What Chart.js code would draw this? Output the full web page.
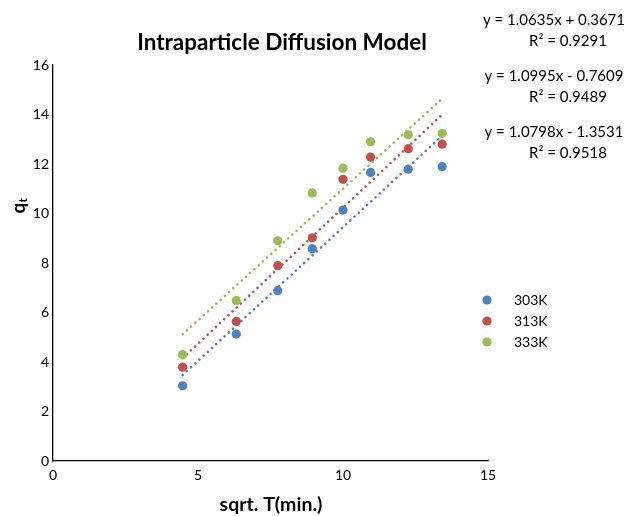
<!DOCTYPE html>
<html>
<head>
<meta charset="utf-8">
<script src="https://cdn.jsdelivr.net/npm/chart.js@4.4.1/dist/chart.umd.min.js"></script>
<style>
html, body { margin: 0; padding: 0; background: #fff; }
#wrap { width: 627px; height: 516px; }
</style>
</head>
<body>
<div id="wrap"><canvas id="diffChart" width="627" height="516"></canvas></div>
<script>
// values
const sqrtTime = [4.47, 6.32, 7.75, 8.94, 10.0, 10.95, 12.25, 13.42];
const qt303 = [3.04, 5.13, 6.88, 8.58, 10.14, 11.66, 11.79, 11.89];
const qt313 = [3.79, 5.64, 7.89, 9.02, 11.38, 12.28, 12.62, 12.80];
const qt333 = [4.30, 6.48, 8.90, 10.83, 11.83, 12.90, 13.18, 13.24];
const seriesNames = ['303K', '313K', '333K'];
const seriesColors = ['#4F81BD', '#C0504D', '#9BBB59'];

// trendline equations shown on the chart (303K, 313K, 333K)
const slopes = [1.0798, 1.0995, 1.0635];
const intercepts = [-1.3531, -0.7609, 0.3671];
const rSquared = ['0.9518', '0.9489', '0.9291'];
const eqLabels = ['y = 1.0798x - 1.3531', 'y = 1.0995x - 0.7609', 'y = 1.0635x + 0.3671'];

const xMin = 0, xMax = 15, xStep = 5;
const yMin = 0, yMax = 16, yStep = 2;

const FONT = 'Lato, "Open Sans", sans-serif';
const allQt = [qt303, qt313, qt333];

function pts(ys) {
    return sqrtTime.map((x, i) => ({ x: x, y: ys[i] }));
}

function trend(k) {
    const x0 = sqrtTime[0];
    const x1 = sqrtTime[sqrtTime.length - 1];
    return [
        { x: x0, y: slopes[k] * x0 + intercepts[k] },
        { x: x1, y: slopes[k] * x1 + intercepts[k] }
    ];
}

const datasets = [];
for (let k = 0; k < 3; k++) {
    datasets.push({
        label: seriesNames[k],
        data: pts(allQt[k]),
        backgroundColor: seriesColors[k],
        borderColor: seriesColors[k],
        pointRadius: 4.6,
        pointHoverRadius: 4.6,
        pointBorderWidth: 0,
        showLine: false,
        order: 1
    });
}
for (let k = 0; k < 3; k++) {
    datasets.push({
        label: 'trend ' + seriesNames[k],
        data: trend(k),
        borderColor: seriesColors[k],
        borderWidth: 2.6,
        borderDash: [0.1, 5.6],
        borderCapStyle: 'round',
        pointRadius: 0,
        showLine: true,
        fill: false,
        order: 2
    });
}

// text drawn the way the spreadsheet lays it out
const textPlugin = {
    id: 'sheetText',
    afterDraw(chart) {
        const c = chart.ctx;
        c.save();
        c.fillStyle = '#000';

        // title
        c.font = 'bold 22.5px ' + FONT;
        c.textAlign = 'center';
        c.textBaseline = 'middle';
        c.fillText('Intraparticle Diffusion Model', 282, 43);

        // x axis title
        c.font = 'bold 19.5px ' + FONT;
        c.fillText('sqrt. T(min.)', 271, 505);

        // y axis title q with subscript t
        c.save();
        c.translate(19, 205);
        c.rotate(-Math.PI / 2);
        c.font = 'bold 19px ' + FONT;
        c.textAlign = 'left';
        const qw = c.measureText('q').width;
        c.fillText('q', -qw / 2 - 3, 0);
        c.font = 'bold 12px ' + FONT;
        c.fillText('t', qw / 2 - 3, 4);
        c.restore();

        // legend
        c.font = '14px ' + FONT;
        c.textAlign = 'left';
        const legendY = [300, 321, 342];
        for (let k = 0; k < 3; k++) {
            c.beginPath();
            c.fillStyle = seriesColors[k];
            c.arc(487, legendY[k], 4.6, 0, Math.PI * 2);
            c.fill();
            c.fillStyle = '#000';
            c.fillText(seriesNames[k], 514, legendY[k]);
        }

        // trendline equations, top to bottom: 333K, 313K, 303K
        c.font = '15px ' + FONT;
        c.textAlign = 'center';
        const eqY = [20, 76, 132];
        for (let j = 0; j < 3; j++) {
            const k = 2 - j;
            c.fillText(eqLabels[k], 554, eqY[j]);
            c.fillText('R\u00B2 = ' + rSquared[k], 568, eqY[j] + 21);
        }
        c.restore();
    }
};

new Chart(document.getElementById('diffChart'), {
    type: 'scatter',
    data: { datasets: datasets },
    options: {
        responsive: false,
        animation: false,
        devicePixelRatio: 1,
        layout: { padding: { top: 65, right: 139, left: 0, bottom: 0 } },
        plugins: {
            legend: { display: false },
            tooltip: { enabled: false },
            title: { display: false }
        },
        scales: {
            x: {
                type: 'linear',
                min: xMin,
                max: xMax,
                ticks: { stepSize: xStep, color: '#000', font: { family: FONT, size: 14 }, padding: 6 },
                grid: { display: false, drawTicks: false },
                border: { display: true, color: '#000', width: 1.3 },
                afterFit(scale) { scale.height = 55; }
            },
            y: {
                type: 'linear',
                min: yMin,
                max: yMax,
                ticks: { stepSize: yStep, color: '#000', font: { family: FONT, size: 14 }, padding: 4 },
                grid: { display: false, drawTicks: false },
                border: { display: true, color: '#000', width: 1.3 },
                afterFit(scale) { scale.width = 53; }
            }
        }
    },
    plugins: [textPlugin]
});
</script>
</body>
</html>
